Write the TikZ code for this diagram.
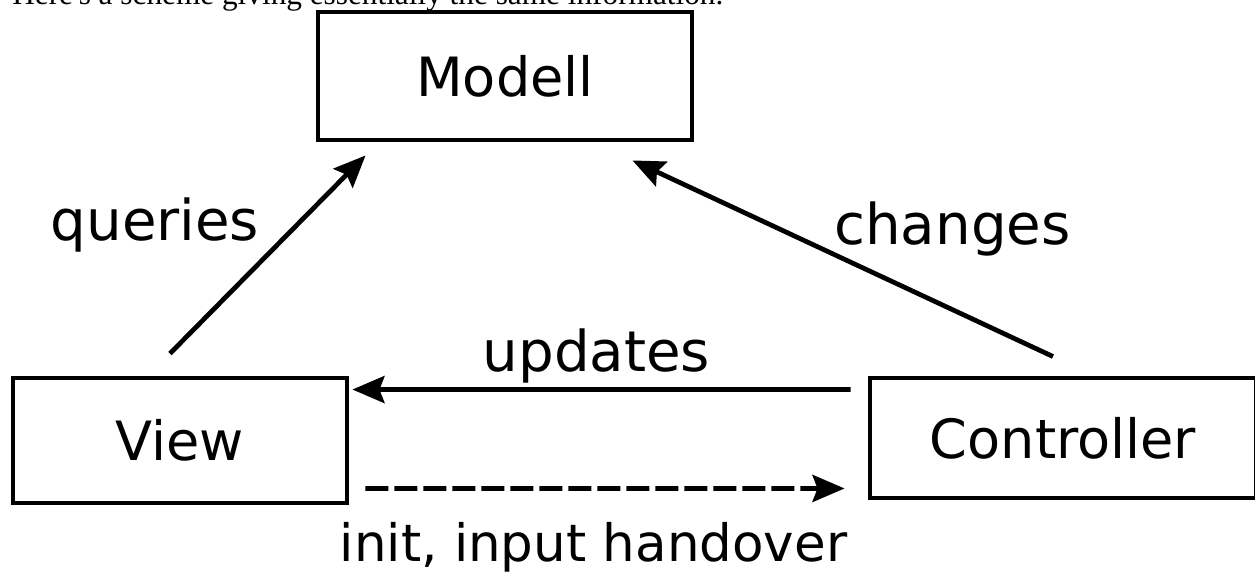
\documentclass[tikz,border=0pt]{standalone}
\usepackage{fontspec}
\setmainfont{DejaVu Sans}
\newfontfamily\notefont{Liberation Serif}
\usetikzlibrary{arrows.meta,calc}

\begin{document}
\begin{tikzpicture}[
		box/.style={draw,line width=2.8pt,inner sep=0pt,font=\fontsize{30.8}{36}\selectfont},
		arr/.style={line width=2.7pt,-{Stealth[length=0.64cm,width=0.54cm,inset=0.1cm]}},
		lbl/.style={anchor=base,font=\fontsize{32}{38}\selectfont}
	]
			\useasboundingbox (0,0) rectangle (25.1,11.46);
			% clipped line of text above the scheme
			\node[anchor=base west,inner sep=0pt,font=\notefont\fontsize{17.8}{21}\selectfont] (note) at (0.24,11.36) {Here's a scheme giving essentially the same information.};
			% the three parts
			\node[box,minimum width=7.48cm,minimum height=2.56cm] (Modell) at (10.10,9.94) {Modell};
			\node[box,minimum width=6.68cm,minimum height=2.50cm] (View) at (3.60,2.65) {View};
			\node[box,minimum width=7.72cm,minimum height=2.40cm] (Controller) at (21.26,2.70) {Controller};
			% connections
			\draw[arr] ([shift={(-0.20,0.44)}]View.north) -- ([shift={(1.00,-0.26)}]Modell.south west);
			\draw[arr] ([shift={(-0.20,0.38)}]Controller.north) -- ([shift={(-1.24,-0.36)}]Modell.south east);
			\draw[arr] ([shift={(-0.34,-0.28)}]Controller.north west) -- ([shift={(0.06,-0.28)}]View.north east);
			\draw[arr,dash pattern=on 0.46cm off 0.12cm] ([shift={(0.32,0.34)}]View.south east) -- ([shift={(-0.46,0.24)}]Controller.south west);
			% labels
			\node[lbl] (queries) at (3.10,6.64) {queries};
			\node[lbl] (changes) at (19.05,6.56) {changes};
			\node[lbl] (updates) at (11.93,4.02) {updates};
			\node[lbl,font=\fontsize{29.3}{35}\selectfont] (handover) at (11.87,0.22) {init, input handover};
		\end{tikzpicture}
\end{document}
